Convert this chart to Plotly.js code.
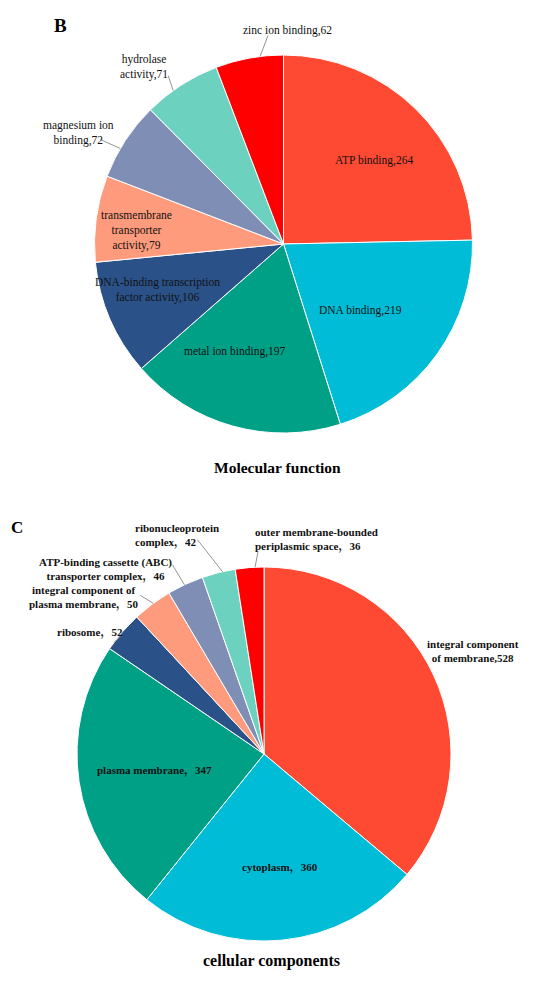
<!DOCTYPE html>
<html>
<head>
<meta charset="utf-8">
<script src="https://cdn.plot.ly/plotly-3.0.1.min.js"></script>
<style>
  html, body { margin: 0; padding: 0; background: #ffffff; }
  #plot { width: 550px; height: 987px; }
</style>
</head>
<body>
<div id="plot"></div>
<script>
// Molecular function (B)
const mfNames = ['ATP binding,', 'DNA binding,', 'metal ion binding,', 'DNA-binding transcription<br>factor activity,',
    'transmembrane<br>transporter<br>activity,', 'magnesium ion<br>binding,', 'hydrolase<br>activity,', 'zinc ion binding,'];
const mfValues = [264, 219, 197, 106, 79, 72, 71, 62];

// Cellular components (C)
const ccNames = ['integral component<br>of membrane,', 'cytoplasm，', 'plasma membrane，', 'ribosome，',
    'integral component of<br>plasma membrane，', 'ATP-binding cassette (ABC)<br>transporter complex，',
    'ribonucleoprotein<br>complex，', 'outer membrane-bounded<br>periplasmic space，'];
const ccValues = [528, 360, 347, 52, 50, 46, 42, 36];

const sliceColors = ['#FF4A33', '#00BCD6', '#00A087', '#2B5189', '#FF9B7D', '#7F8EB5', '#6DD1C0', '#FF0000'];

(function () {
    const W = 550, H = 987;
    const serif = 'Liberation Serif, Times New Roman, Noto Serif CJK SC, Noto Sans CJK SC, serif';

    // pie geometry in pixels
    const pieB = { cx: 283.5, cy: 244, r: 189 };
    const pieC = { cx: 264, cy: 754, r: 187 };

    // label placement: inside/outer text by polar position, small ones with a leader line
    const mfPlace = [
        { frac: 0.653, dA: 2.7 },
        { frac: 0.538, dA: 5.5 },
        { frac: 0.626, dA: 8.6 },
        { frac: 0.713, dA: 3.2 },
        { frac: 0.78, dA: -2.3 },
        { dA: -2.8, line: [-20, -9], txt: [-42, -15.5], anchor: 'center' },
        { dA: -2.9, line: [-5, -15], txt: [-29, -23.5], anchor: 'center' },
        { dA: 3.3, line: [8, -21], txt: [27, -26], anchor: 'center' }
    ];
    const ccPlace = [
        { frac: 1.245, dA: -1.2 },
        { frac: 0.613, dA: -2.6 },
        { frac: 0.593, dA: 0 },
        { dA: -4.1, line: [7, -6], txt: [-24, -9.5], anchor: 'center' },
        { dA: 0.4, line: [-13, -8], txt: [-69, -6], anchor: 'center' },
        { dA: -0.3, line: [-12, -20], txt: [-79, -15], anchor: 'center' },
        { dA: 1.2, line: [-25, -32], txt: [-89, -36], anchor: 'left' },
        { dA: 1.7, line: [3, -16], txt: [-2, -28], anchor: 'left' }
    ];

    const px = x => x / W;
    const py = y => 1 - y / H;

    function domainOf(p) {
        return {
            x: [px(p.cx - p.r), px(p.cx + p.r)],
            y: [py(p.cy + p.r), py(p.cy - p.r)]
        };
    }

    function midAngles(values) {
        const total = values.reduce((a, b) => a + b, 0);
        let acc = 0;
        return values.map(v => {
            const mid = (acc + v / 2) / total * 360;
            acc += v;
            return mid;
        });
    }

    function piePoint(p, deg, frac) {
        const a = deg * Math.PI / 180;
        return [p.cx + frac * p.r * Math.sin(a), p.cy - frac * p.r * Math.cos(a)];
    }

    const annotations = [];
    const shapes = [];

    function addLabels(p, names, values, place, font) {
        const mids = midAngles(values);
        names.forEach((name, i) => {
            const pl = place[i];
            const text = name + values[i];
            if (pl.frac !== undefined) {
                const [x, y] = piePoint(p, mids[i] + pl.dA, pl.frac);
                annotations.push({
                    x: px(x), y: py(y), xref: 'paper', yref: 'paper',
                    text: text, showarrow: false, font: font, align: 'center',
                    xanchor: 'center', yanchor: 'middle'
                });
            } else {
                const [tx, ty] = piePoint(p, mids[i] + pl.dA, 1.0);
                shapes.push({
                    type: 'line', xref: 'paper', yref: 'paper',
                    x0: px(tx), y0: py(ty), x1: px(tx + pl.line[0]), y1: py(ty + pl.line[1]),
                    line: { color: '#7a7a7a', width: 0.8 }
                });
                annotations.push({
                    x: px(tx + pl.txt[0]), y: py(ty + pl.txt[1]), xref: 'paper', yref: 'paper',
                    text: text, showarrow: false, font: font, align: pl.anchor,
                    xanchor: pl.anchor, yanchor: 'middle'
                });
            }
        });
    }

    addLabels(pieB, mfNames, mfValues, mfPlace, { family: serif, size: 11.5, color: '#111111' });
    addLabels(pieC, ccNames, ccValues, ccPlace, { family: serif, size: 11, color: '#111111', weight: 'bold' });

    // panel letters and titles
    annotations.push(
        { x: px(52), y: py(13), xref: 'paper', yref: 'paper', text: '<b>B</b>', showarrow: false,
          font: { family: serif, size: 19, color: '#000' } },
        { x: px(9), y: py(527), xref: 'paper', yref: 'paper', text: '<b>C</b>', showarrow: false,
          font: { family: serif, size: 17, color: '#000' } },
        { x: px(277), y: py(468), xref: 'paper', yref: 'paper', text: '<b>Molecular function</b>', showarrow: false,
          font: { family: serif, size: 15.5, color: '#000' } },
        { x: px(271), y: py(972), xref: 'paper', yref: 'paper', text: '<b>cellular components</b>', showarrow: false,
          font: { family: serif, size: 16, color: '#000' } }
    );

    const common = {
        type: 'pie',
        sort: false,
        direction: 'clockwise',
        rotation: 0,
        textinfo: 'none',
        hoverinfo: 'label+value',
        marker: { colors: sliceColors, line: { color: '#ffffff', width: 1 } }
    };

    const traceB = Object.assign({}, common, {
        labels: mfNames.map(n => n.replace(/<br>/g, ' ')),
        values: mfValues,
        domain: domainOf(pieB)
    });
    const traceC = Object.assign({}, common, {
        labels: ccNames.map(n => n.replace(/<br>/g, ' ')),
        values: ccValues,
        domain: domainOf(pieC)
    });

    Plotly.newPlot('plot', [traceB, traceC], {
        width: W,
        height: H,
        margin: { l: 0, r: 0, t: 0, b: 0 },
        paper_bgcolor: '#ffffff',
        showlegend: false,
        annotations: annotations,
        shapes: shapes
    }, { displayModeBar: false, staticPlot: true });
})();
</script>
</body>
</html>
